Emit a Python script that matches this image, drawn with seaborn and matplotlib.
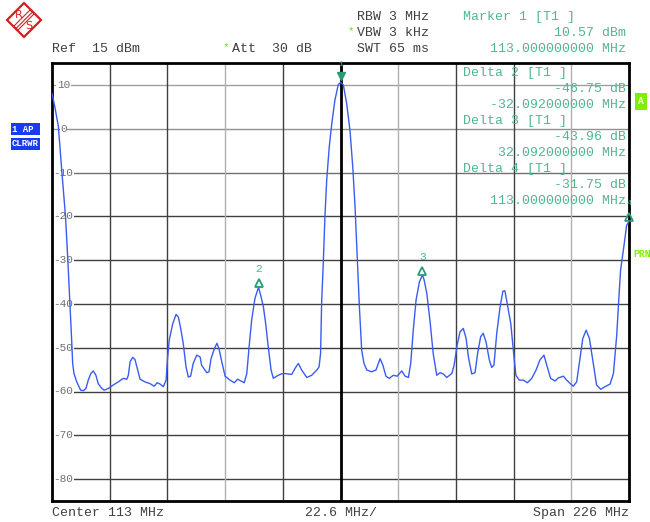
import numpy as np
import pandas as pd
import seaborn as sns
import matplotlib.pyplot as plt
from matplotlib.patches import Polygon

# trace: frequency (MHz) and level (dBm)
freq_mhz = [0.0, 1.2, 2.5, 3.8, 5.3, 6.2, 7.1, 7.7, 8.1, 8.6, 9.7, 11.2, 12.3, 13.3, 14.2,
            15.2, 16.2, 17.2, 18.1, 19.5, 20.4, 22.1, 24.0, 26.0, 27.9, 29.3, 29.9, 30.6,
            31.6, 32.5, 33.4, 34.5, 36.4, 38.4, 40.0, 41.2, 42.3, 43.6, 44.7, 45.2, 45.9,
            47.3, 48.6, 49.5, 50.4, 51.4, 52.5, 53.4, 54.3, 55.3, 56.7, 58.0, 58.6, 60.6,
            61.5, 62.3, 63.6, 64.6, 65.4, 66.5, 67.8, 69.7, 71.4, 72.7, 74.0, 75.3, 76.3,
            77.2, 78.2, 79.5, 80.9, 81.9, 82.8, 83.7, 84.7, 85.8, 86.7, 88.0, 89.7, 91.3,
            92.6, 93.9, 95.2, 96.5, 97.8, 99.8, 101.7, 103.7, 104.6, 105.2, 105.6, 106.3,
            106.9, 107.6, 108.6, 109.6, 110.8, 112.1, 113.0, 114.1, 115.4, 116.7, 117.8,
            118.7, 119.6, 120.4, 121.3, 122.2, 123.3, 125.2, 126.9, 128.5, 129.6, 130.8,
            132.1, 133.7, 135.2, 137.0, 138.3, 139.6, 140.5, 141.5, 142.6, 143.9, 145.1,
            145.7, 146.8, 148.1, 149.3, 150.7, 152.0, 153.3, 154.6, 156.6, 157.5, 158.7,
            159.8, 161.1, 162.2, 163.1, 164.4, 165.7, 166.7, 167.9, 168.9, 170.0, 171.3,
            172.2, 173.1, 174.2, 175.5, 176.6, 177.4, 178.3, 179.7, 180.7, 181.7, 183.0,
            184.6, 186.2, 187.9, 189.6, 191.1, 192.7, 193.8, 195.3, 197.0, 198.3, 200.3,
            201.6, 203.2, 204.2, 205.5, 206.5, 207.9, 209.2, 210.5, 211.8, 213.3, 214.9,
            216.6, 218.6, 219.9, 221.2, 221.9, 222.7, 223.8, 225.1, 226.0]
level_dbm = [8.1, 4.7, 0.5, -9.4, -20.1, -30.0, -40.7, -48.3, -53.6, -55.9, -57.8, -59.7,
             -59.8, -59.3, -57.4, -55.9, -55.3, -56.3, -58.2, -59.3, -59.7, -59.3, -58.5,
             -57.8, -57.0, -57.2, -56.3, -53.2, -52.2, -52.7, -54.7, -57.2, -57.8, -58.2,
             -58.8, -58.0, -58.3, -58.9, -57.4, -52.8, -48.3, -44.5, -42.4, -43.0, -45.6,
             -49.0, -54.4, -56.7, -56.5, -53.6, -51.7, -52.1, -54.0, -55.7, -55.5, -52.5,
             -50.2, -49.0, -50.2, -53.2, -56.5, -57.4, -58.0, -57.2, -57.6, -58.0, -55.9,
             -49.8, -43.7, -38.7, -36.2, -38.4, -40.7, -44.5, -49.8, -55.1, -57.0, -56.5,
             -56.0, -55.9, -56.0, -56.1, -54.7, -53.6, -55.1, -56.8, -56.3, -55.1, -54.4,
             -51.3, -39.9, -30.0, -20.1, -11.7, -4.1, 1.2, 6.5, 10.0, 10.57, 10.0, 5.8,
             -0.3, -8.7, -17.8, -30.0, -40.7, -50.6, -53.6, -55.1, -55.5, -55.1, -52.5,
             -54.0, -56.5, -57.0, -56.3, -56.5, -55.3, -56.5, -56.8, -53.6, -46.0, -39.1,
             -35.0, -33.39, -34.4, -37.6, -44.1, -51.3, -56.3, -55.7, -56.0, -56.8, -55.9,
             -54.0, -49.4, -46.4, -45.6, -47.9, -52.1, -56.0, -55.7, -51.3, -47.5, -46.7,
             -48.7, -52.8, -54.5, -54.0, -46.7, -40.7, -37.1, -37.0, -39.9, -44.5, -50.6,
             -56.3, -57.4, -57.4, -58.0, -57.0, -55.1, -52.8, -51.7, -54.0, -57.0, -57.6,
             -56.9, -56.5, -57.4, -58.3, -58.8, -57.8, -53.6, -47.9, -46.0, -47.9, -52.8,
             -58.5, -59.5, -58.9, -58.3, -55.9, -47.1, -39.9, -32.3, -27.7, -22.0, -21.18]

# markers
marker_ids = ["1", "2", "3", "4"]
marker_freq = [113.0, 80.908, 145.092, 226.0]
marker_level = [10.57, -36.18, -33.39, -21.18]

y_ticks = [10, 0, -10, -20, -30, -40, -50, -60, -70, -80]
x_div = 22.6

W, H = 650, 522
TEAL = "#4cb890"
GREY = "#404040"
LIME = "#66dd22"
RED = "#d42020"


def fx(x):
    return x / W


def fy(y):
    return 1 - y / H


sns.set_theme(style="white")
plt.rcParams["font.family"] = ["Liberation Mono", "DejaVu Sans Mono"]
plt.rcParams["hatch.color"] = RED
plt.rcParams["hatch.linewidth"] = 0.8

fig = plt.figure(figsize=(6.5, 5.22), dpi=100)
ax = fig.add_axes([fx(52), fy(501), fx(577), 438 / H])

# grid
h_cols = ["#a0a0a0", "#909090", "#707070", "#404040", "#404040", "#404040",
          "#404040", "#404040", "#404040", "#404040"]
for v, c in zip(y_ticks, h_cols):
    ax.axhline(v, color=c, lw=1, zorder=1)
v_cols = ["#404040", "#404040", "#b0b0b0", "#404040", "black",
          "#b0b0b0", "#404040", "#404040", "#b0b0b0"]
for i, c in enumerate(v_cols):
    ax.axvline((i + 1) * x_div, color=c, lw=2 if c == "black" else 1, zorder=1)

df = pd.DataFrame({"freq": freq_mhz, "level": level_dbm})
sns.lineplot(data=df, x="freq", y="level", color="#3a5cf0", lw=1, ax=ax, zorder=3)

# markers
ax.plot(marker_freq[0], marker_level[0] + 1.4, marker="v", ms=6, color="#2a9a78",
        clip_on=False, zorder=5)
ax.plot(marker_freq[1:], [l + 1.0 for l in marker_level[1:]], ls="none", marker="^",
        ms=6, mfc="none", mec="#2a9a78", mew=1.3, clip_on=False, zorder=5)
ax.text(marker_freq[0], marker_level[0] + 4.2, marker_ids[0], color=TEAL, fontsize=6,
        ha="center", va="center")
for mid, f, l in zip(marker_ids[1:], marker_freq[1:], marker_level[1:]):
    ax.text(f, l + 4.2, mid, color=TEAL, fontsize=8 if mid != "4" else 6,
            ha="center", va="center", clip_on=False)

ax.set_xlim(0, 226)
ax.set_ylim(-85, 15)
ax.set_xticks([])
ax.set_yticks([])
ax.set_xlabel("")
ax.set_ylabel("")
for s in ax.spines.values():
    s.set_color("black")
    s.set_linewidth(2)

# level labels inside the grid
for v in y_ticks:
    ax.text(4.5, v, str(v), color="#707070", fontsize=8, ha="center", va="center",
            bbox=dict(fc="white", ec="none", pad=0.3), zorder=2)

# header
fig.text(fx(357), fy(17), "RBW 3 MHz", color=GREY, fontsize=9.5, va="center")
fig.text(fx(357), fy(33), "VBW 3 kHz", color=GREY, fontsize=9.5, va="center")
fig.text(fx(357), fy(49), "SWT 65 ms", color=GREY, fontsize=9.5, va="center")
fig.text(fx(351), fy(31), "*", color=LIME, fontsize=8, ha="center", va="center")
fig.text(fx(52), fy(49), "Ref  15 dBm", color=GREY, fontsize=9.5, va="center")
fig.text(fx(226), fy(47), "*", color=LIME, fontsize=8, ha="center", va="center")
fig.text(fx(232), fy(49), "Att  30 dB", color=GREY, fontsize=9.5, va="center")

fig.text(fx(463), fy(17), "Marker 1 [T1 ]", color=TEAL, fontsize=9.5, va="center")
fig.text(fx(626), fy(33), "10.57 dBm", color=TEAL, fontsize=9.5, va="center", ha="right")
fig.text(fx(626), fy(49), "113.000000000 MHz", color=TEAL, fontsize=9.5, va="center",
         ha="right")

deltas = [("Delta 2 [T1 ]", "-46.75 dB", "-32.092000000 MHz"),
          ("Delta 3 [T1 ]", "-43.96 dB", "32.092000000 MHz"),
          ("Delta 4 [T1 ]", "-31.75 dB", "113.000000000 MHz")]
for i, (t, a, b) in enumerate(deltas):
    y0 = 73 + i * 48
    fig.text(fx(463), fy(y0), t, color=TEAL, fontsize=9.5, va="center")
    fig.text(fx(626), fy(y0 + 16), a, color=TEAL, fontsize=9.5, va="center", ha="right")
    fig.text(fx(626), fy(y0 + 32), b, color=TEAL, fontsize=9.5, va="center", ha="right")

# footer
fig.text(fx(52), fy(513), "Center 113 MHz", color=GREY, fontsize=9.5, va="center")
fig.text(fx(305), fy(513), "22.6 MHz/", color=GREY, fontsize=9.5, va="center")
fig.text(fx(629), fy(513), "Span 226 MHz", color=GREY, fontsize=9.5, va="center",
         ha="right")

# side badges
fig.text(fx(12), fy(129), "1 AP ", color="white", fontsize=6.5, va="center",
         weight="bold", bbox=dict(fc="#1a3cf0", ec="none", pad=1))
fig.text(fx(12), fy(144), "CLRWR", color="white", fontsize=6.5, va="center",
         weight="bold", bbox=dict(fc="#1a3cf0", ec="none", pad=1))
fig.text(fx(641), fy(101), "A", color="white", fontsize=7, va="center", ha="center",
         weight="bold", bbox=dict(fc="#7cf000", ec="none", pad=2.5))
fig.text(fx(633), fy(254), "PRN", color="#7cf000", fontsize=7, va="center",
         weight="bold")

# R&S logo
cx, cy, r = 24, 20, 17
diamond = [(fx(cx), fy(cy - r)), (fx(cx + r), fy(cy)), (fx(cx), fy(cy + r)),
           (fx(cx - r), fy(cy))]
fig.patches.append(Polygon(diamond, closed=True, fc="white", ec=RED, lw=1.6,
                           transform=fig.transFigure, figure=fig))
band = [(fx(cx - 10), fy(cy + 6)), (fx(cx + 6), fy(cy - 10)), (fx(cx + 10), fy(cy - 6)),
        (fx(cx - 6), fy(cy + 10))]
fig.patches.append(Polygon(band, closed=True, fc="white", ec=RED, lw=0.8,
                           hatch="//////", transform=fig.transFigure, figure=fig))
fig.text(fx(cx - 5), fy(cy - 5), "R", color=RED, fontsize=8, ha="center",
         va="center", family="DejaVu Sans")
fig.text(fx(cx + 5), fy(cy + 6), "S", color=RED, fontsize=8, ha="center",
         va="center", family="DejaVu Sans")

fig.savefig("out.png", dpi=100)
